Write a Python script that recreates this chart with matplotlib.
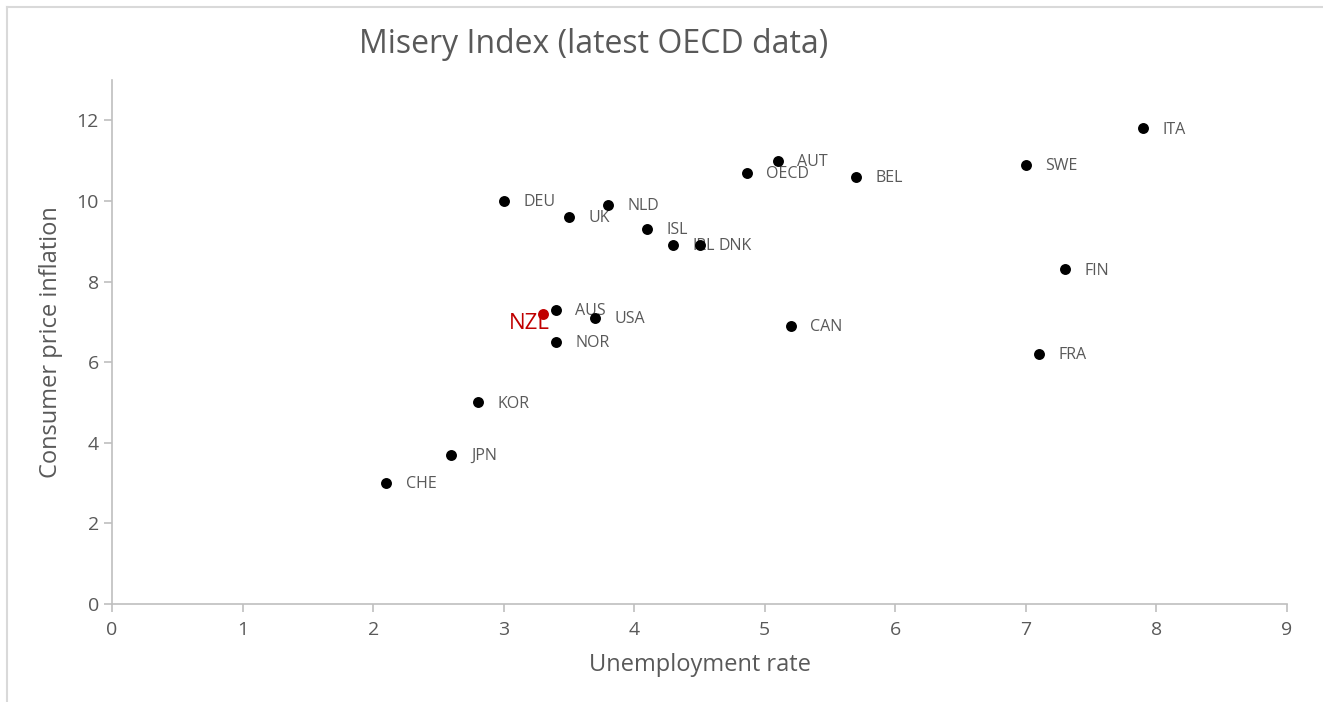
import matplotlib
matplotlib.use("Agg")
import matplotlib.pyplot as plt
from matplotlib.lines import Line2D

countries = ["ITA", "SWE", "AUT", "OECD", "BEL", "DEU", "NLD", "UK", "ISL", "IRL", "DNK",
             "FIN", "AUS", "USA", "CAN", "NOR", "FRA", "KOR", "JPN", "CHE"]
unemployment = [7.9, 7.0, 5.1, 4.86, 5.7, 3.0, 3.8, 3.5, 4.1, 4.3, 4.5,
                7.3, 3.4, 3.7, 5.2, 3.4, 7.1, 2.8, 2.6, 2.1]
inflation = [11.8, 10.9, 11.0, 10.7, 10.6, 10.0, 9.9, 9.6, 9.3, 8.9, 8.9,
             8.3, 7.3, 7.1, 6.9, 6.5, 6.2, 5.0, 3.7, 3.0]
nz_label = "NZL"
nz_unemployment = 3.3
nz_inflation = 7.2

x_ticks = [0, 1, 2, 3, 4, 5, 6, 7, 8, 9]
y_ticks = [0, 2, 4, 6, 8, 10, 12]

plt.rcParams['font.family'] = ['Open Sans', 'DejaVu Sans']
TXT = "#595959"
SP = "#bfbfbf"

fig = plt.figure(figsize=(13.23, 7.02), dpi=100)
ax = fig.add_axes([0.0847, 0.1396, 0.8881, 0.7464])

ax.scatter(unemployment, inflation, s=62, color="black", zorder=3, linewidths=0)
ax.scatter([nz_unemployment], [nz_inflation], s=62, color="#c00000", zorder=3, linewidths=0)

for c, x, y in zip(countries, unemployment, inflation):
    ax.annotate(c, (x, y), xytext=(14, -0.8), textcoords="offset points",
                va="center", ha="left", fontsize=11.5, color=TXT, zorder=2)
ax.annotate(nz_label, (nz_unemployment, nz_inflation), xytext=(5, -7), textcoords="offset points",
            va="center", ha="right", fontsize=16, color="#c00000", zorder=4)

ax.set_xlim(0, 9)
ax.set_ylim(0, 13)
ax.set_xticks(x_ticks)
ax.set_yticks(y_ticks)
for s in ["top", "right"]:
    ax.spines[s].set_visible(False)
for s in ["left", "bottom"]:
    ax.spines[s].set_color(SP)
    ax.spines[s].set_linewidth(1.2)
ax.tick_params(colors=SP, labelcolor=TXT, labelsize=14, length=6, width=1.2)
ax.tick_params(axis="x", pad=6)
ax.set_xlabel("Unemployment rate", fontsize=17, color=TXT, labelpad=10)
ax.set_ylabel("Consumer price inflation", fontsize=17, color=TXT, labelpad=10)

fig.text(0.449, 0.937, "Misery Index (latest OECD data)", fontsize=23, color=TXT,
         ha="center", va="center")

fig.add_artist(Line2D([7/1323, 1322/1323], [1 - 7/702, 1 - 7/702], color="#d9d9d9", lw=1.5))
fig.add_artist(Line2D([7/1323, 7/1323], [1 - 7/702, 0], color="#d9d9d9", lw=1.5))

fig.savefig("out.png", dpi=100)
